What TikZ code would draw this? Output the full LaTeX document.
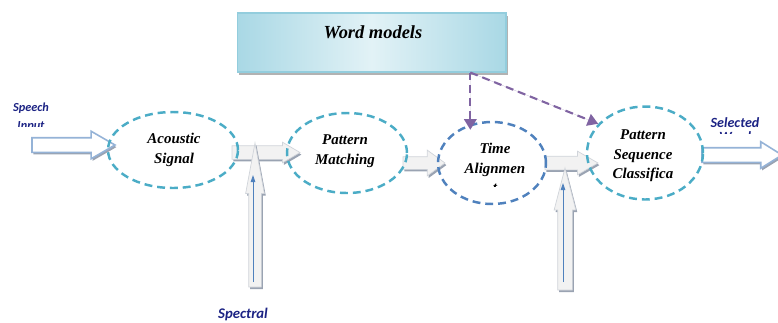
\documentclass[tikz,border=0pt]{standalone}
\usepackage{fontspec}
\setmainfont{Liberation Serif}
\newfontfamily\labelfont{Carlito}
\usetikzlibrary{positioning,arrows.meta,shapes.geometric,shapes.arrows,shadows,calc}

\definecolor{stagecyan}{HTML}{4BACC6}
\definecolor{stageblue}{HTML}{4F81BD}
\definecolor{modelpurple}{HTML}{8064A2}
\definecolor{labelnavy}{HTML}{1C2384}
\definecolor{ioedge}{HTML}{95B3D7}
\definecolor{flowfill}{HTML}{F2F2F2}
\definecolor{flowedge}{HTML}{D0D4DA}
\definecolor{flowshade}{HTML}{9AA3B2}
\definecolor{boxdeep}{HTML}{A9D8E5}
\definecolor{boxpale}{HTML}{E2F2F6}
\definecolor{boxedge}{HTML}{93CDDD}

\begin{document}
\begin{tikzpicture}[
  x=0.02cm, y=-0.02cm,
  stage/.style={ellipse, draw=stagecyan, line width=1.4pt,
    dash pattern=on 4.5pt off 2.8pt, inner sep=0pt},
  stagetext/.style={font=\fontsize{8.5}{11.2}\selectfont\bfseries\itshape,
    align=center, inner sep=0pt},
  flowarrow/.style={single arrow, single arrow head indent=0pt, inner xsep=0pt,
    anchor=tail, outer sep=0pt,
    fill=flowfill, draw=flowedge, line width=0.4pt,
    drop shadow={shadow xshift=0.8pt, shadow yshift=-1.2pt, fill=flowshade, opacity=1}},
  ioarrow/.style={flowarrow, fill=white, draw=ioedge, line width=0.9pt},
  feedline/.style={-{Triangle[length=4pt,width=2.6pt]}, draw=stageblue, line width=0.5pt},
  modelarrow/.style={-{Triangle[length=6pt,width=7pt]}, draw=modelpurple, fill=modelpurple,
    line width=1.2pt, dash pattern=on 4.5pt off 2.8pt},
  note/.style={font=\labelfont\fontsize{8}{10}\selectfont\bfseries\itshape,
    text=labelnavy, align=center, inner sep=0pt},
  modelbox/.style={draw=boxedge, line width=0.6pt, left color=boxdeep, right color=boxdeep,
    middle color=boxpale,
    drop shadow={shadow xshift=1pt, shadow yshift=-1.6pt, fill=gray!60, opacity=1}}
]
\useasboundingbox (0,0) rectangle (778,322);

% --- word model store on top ---
\node[modelbox, minimum width=5.38cm, minimum height=1.18cm] (models) at (371.5,42.5) {};
\node[font=\fontsize{10.5}{12}\selectfont\bfseries\itshape] (modelsname) at (373,32) {Word models};

% --- block arrows between the stages (placed by their tails) ---
\node[ioarrow, minimum height=1.66cm, inner ysep=0.13cm,
      single arrow head extend=0.13cm, single arrow tip angle=60] (inarr) at (32,145) {};
\node[flowarrow, minimum height=1.36cm, inner ysep=0.13cm,
      single arrow head extend=0.07cm, single arrow tip angle=61] (arr12) at (232,152.5) {};
\node[flowarrow, minimum height=0.84cm, inner ysep=0.12cm,
      single arrow head extend=0.13cm, single arrow tip angle=72] (arr23) at (403,163) {};
\node[flowarrow, minimum height=1.06cm, inner ysep=0.13cm,
      single arrow head extend=0.1cm, single arrow tip angle=60] (arr34) at (545,163) {};
\node[ioarrow, minimum height=1.6cm, inner ysep=0.13cm,
      single arrow head extend=0.12cm, single arrow tip angle=64] (outarr) at (702,155) {};

% feature arrows coming up from below
\node[flowarrow, rotate=90, minimum height=2.88cm, inner ysep=0.12cm,
      single arrow head extend=0.06cm, single arrow tip angle=21] (spec1) at (255,287) {};
\node[flowarrow, rotate=90, minimum height=2.44cm, inner ysep=0.14cm,
      single arrow head extend=0.07cm, single arrow tip angle=29] (spec2) at (565,290) {};
\draw[feedline] ($(spec1.tail)+(-2,-5)$) -- ($(spec1.tail)+(-2,-112)$);
\draw[feedline] ($(spec2.tail)+(-2,-8)$) -- ($(spec2.tail)+(-2,-107)$);

% --- recognition stages ---
\node[stage, minimum width=2.6cm, minimum height=1.52cm] (acoustic) at (173,150) {};
\node[stagetext] (acoustictext) at (174,150) {Acoustic\\Signal};

\node[stage, minimum width=2.4cm, minimum height=1.6cm] (matching) at (347,153) {};
\node[stagetext] (matchingtext) at (345,151) {Pattern\\Matching};

\node[stage, draw=stageblue, minimum width=2.16cm, minimum height=1.64cm] (align) at (492,163) {};
\begin{scope}
  \clip (430,130) rectangle (560,186);
  \node[stagetext] (aligntext) at (495,168) {Time\\Alignmen\\t};
\end{scope}

\node[stage, minimum width=2.32cm, minimum height=1.86cm] (classify) at (645,153) {};
\node[stagetext] (classifytext) at (643,156) {Pattern\\Sequence\\Classifica};

% --- word models feed the last two stages ---
\coordinate (fork) at ($(models.south west)!0.866!(models.south east)$);
\draw[modelarrow] (fork) -- ($(fork |- align.north)+(0,9)$);
\draw[modelarrow] (fork) -- (classify.148);

% --- outer labels ---
\begin{scope}
  \clip (0,95) rectangle (90,126);
  \node[note, font=\labelfont\fontsize{7}{10.5}\selectfont\bfseries\itshape] (speech) at (31,117) {Speech\\Input};
\end{scope}
\node[note] (selected) at (735,123) {Selected};
\begin{scope}
  \clip (700,126) rectangle (778,133);
  \node[note] (selectedword) at (735,137) {Word};
\end{scope}
\node[note, font=\labelfont\fontsize{8.4}{10}\selectfont\bfseries\itshape] (spectral) at (243,314) {Spectral};

\end{tikzpicture}
\end{document}
